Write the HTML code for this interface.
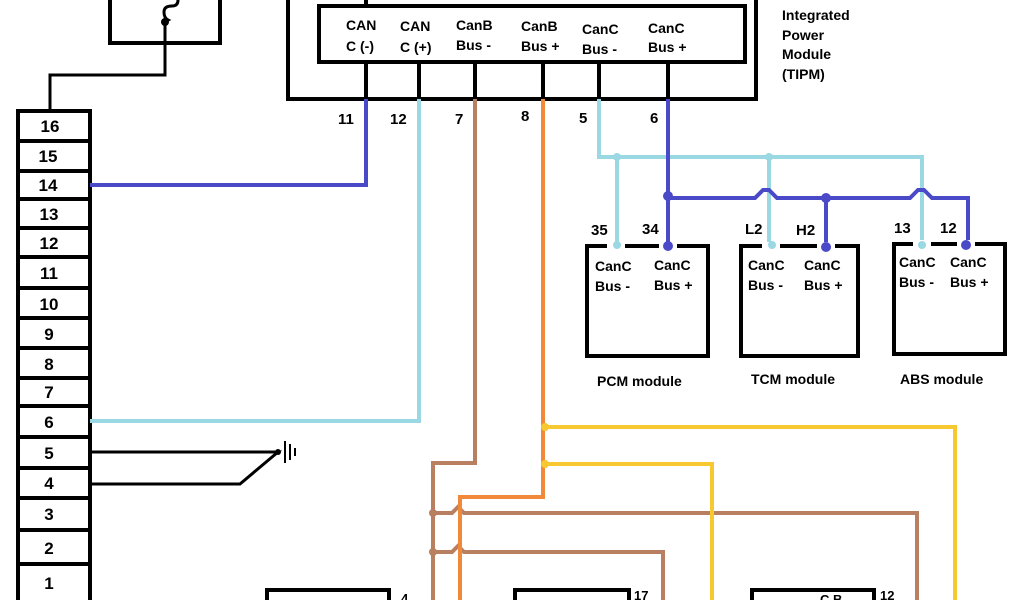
<!DOCTYPE html>
<html><head><meta charset="utf-8"><style>
html,body{margin:0;padding:0;background:#fff;}
svg{display:block;font-family:"Liberation Sans",Arial,sans-serif;font-weight:bold;}
</style></head><body>
<svg width="1024" height="600" viewBox="0 0 1024 600" xmlns="http://www.w3.org/2000/svg">
<rect width="1024" height="600" fill="#fff"/>
<g fill="none" stroke="#000" stroke-width="4">
 <path d="M110 -5 V43 H220 V-5"/>
 <path d="M165 22 V75 H50 V110" stroke-width="3"/>
 <path d="M178 0 q0 6 -6 6 q-8 0 -8 6 q0 6 4 8 q-4 2 -3 4" stroke-width="3"/>
 <rect x="18" y="111" width="72" height="495"/>
</g>
<circle cx="165" cy="22" r="4" fill="#000"/>
<g stroke="#000" stroke-width="4">
 <line x1="18" y1="141" x2="90" y2="141"/><line x1="18" y1="171" x2="90" y2="171"/>
 <line x1="18" y1="199" x2="90" y2="199"/><line x1="18" y1="228" x2="90" y2="228"/>
 <line x1="18" y1="257" x2="90" y2="257"/><line x1="18" y1="288" x2="90" y2="288"/>
 <line x1="18" y1="318" x2="90" y2="318"/><line x1="18" y1="348" x2="90" y2="348"/>
 <line x1="18" y1="378" x2="90" y2="378"/><line x1="18" y1="406" x2="90" y2="406"/>
 <line x1="18" y1="437" x2="90" y2="437"/><line x1="18" y1="468" x2="90" y2="468"/>
 <line x1="18" y1="498" x2="90" y2="498"/><line x1="18" y1="530" x2="90" y2="530"/>
 <line x1="18" y1="564" x2="90" y2="564"/>
</g>
<g font-size="17" text-anchor="middle">
 <text x="50" y="132">16</text><text x="48" y="162">15</text><text x="48" y="191">14</text>
 <text x="49" y="220">13</text><text x="49" y="249">12</text><text x="49" y="279">11</text>
 <text x="49" y="310">10</text><text x="49" y="340">9</text><text x="49" y="370">8</text>
 <text x="49" y="398">7</text><text x="49" y="428">6</text><text x="49" y="459">5</text>
 <text x="49" y="489">4</text><text x="49" y="520">3</text><text x="49" y="554">2</text>
 <text x="49" y="589">1</text>
</g>
<g fill="none" stroke="#000" stroke-width="4">
 <path d="M288 -5 V99 H756 V-5"/>
 <rect x="319" y="6" width="426" height="56"/>
 <line x1="366" y1="-5" x2="366" y2="6"/>
 <line x1="366" y1="62" x2="366" y2="99"/><line x1="419" y1="62" x2="419" y2="99"/>
 <line x1="475" y1="62" x2="475" y2="99"/><line x1="543" y1="62" x2="543" y2="99"/>
 <line x1="599" y1="62" x2="599" y2="99"/><line x1="668" y1="62" x2="668" y2="99"/>
</g>
<g font-size="14">
 <text x="346" y="30">CAN</text><text x="346" y="51">C (-)</text>
 <text x="400" y="31">CAN</text><text x="400" y="52">C (+)</text>
 <text x="456" y="30">CanB</text><text x="456" y="50">Bus -</text>
 <text x="521" y="31">CanB</text><text x="521" y="51">Bus +</text>
 <text x="582" y="34">CanC</text><text x="582" y="54">Bus -</text>
 <text x="648" y="33">CanC</text><text x="648" y="52">Bus +</text>
 <text x="782" y="20">Integrated</text><text x="782" y="40">Power</text>
 <text x="782" y="59">Module</text><text x="782" y="79">(TIPM)</text>
</g>
<g font-size="15">
 <text x="338" y="124">11</text><text x="390" y="124">12</text><text x="455" y="124">7</text>
 <text x="521" y="121">8</text><text x="579" y="123">5</text><text x="650" y="123">6</text>
</g>
<g fill="none" stroke-width="4">
 <path d="M366 99 V185 H90" stroke="#4a4ac8"/>
 <path d="M419 99 V421 H90" stroke="#9ad8e4"/>
 <path d="M599 99 V157 H922 V245" stroke="#9ad8e4"/>
 <path d="M617 157 V245 M769 157 V245" stroke="#9ad8e4"/>
 <path d="M668 99 V245" stroke="#4a4ac8"/>
 <path d="M668 198 H755 l8 -8 h6 l8 8 H910 l8 -8 h6 l8 8 H968 V245 M826 198 V245" stroke="#4a4ac8"/>
 <path d="M475 99 V463 H433 V600" stroke="#b88060"/>
 <path d="M433 513 H452 l6 -6 l6 6 H917 V600" stroke="#b88060"/>
 <path d="M433 552 H452 l6 -6 l6 6 H663 V600" stroke="#b88060"/>
 <path d="M543 99 V497 H460 V600" stroke="#f08a3a"/>
 <path d="M548 427 H955 V600" stroke="#f8c830"/>
 <path d="M548 464 H712 V600" stroke="#f8c830"/>
 <path d="M90 452 H278 L240 484 H90" stroke="#000" stroke-width="3"/>
</g>
<g fill="#000"><circle cx="278" cy="452" r="3"/></g>
<g stroke="#000" stroke-width="2"><line x1="285" y1="441" x2="285" y2="463"/><line x1="290" y1="444" x2="290" y2="460"/><line x1="295" y1="448" x2="295" y2="456"/></g>
<g fill="#9ad8e4"><circle cx="617" cy="157" r="4"/><circle cx="769" cy="157" r="4"/></g>
<g fill="#4a4ac8"><circle cx="668" cy="196" r="5"/><circle cx="826" cy="198" r="5"/></g>
<g fill="#b88060"><circle cx="433" cy="513" r="4"/><circle cx="433" cy="552" r="4"/></g>
<g fill="#f8c830"><circle cx="545" cy="427" r="4"/><circle cx="545" cy="464" r="4"/></g>
<g fill="none" stroke="#000" stroke-width="4">
 <rect x="587" y="246" width="121" height="110"/>
 <rect x="741" y="246" width="117" height="110"/>
 <rect x="894" y="244" width="111" height="110"/>
 <path d="M267 600 V590 H389 V600"/>
 <path d="M515 600 V590 H629 V600"/>
 <path d="M752 600 V590 H874 V600"/>
</g>
<g fill="#fff"><rect x="607" y="242" width="18" height="7"/><rect x="659" y="242" width="18" height="7"/>
<rect x="762" y="242" width="18" height="7"/><rect x="817" y="242" width="18" height="7"/>
<rect x="913" y="240" width="18" height="7"/><rect x="957" y="240" width="18" height="7"/></g>
<g fill="#9ad8e4"><circle cx="617" cy="245" r="4"/><circle cx="772" cy="245" r="4"/><circle cx="922" cy="245" r="4"/></g>
<g fill="#4a4ac8"><circle cx="668" cy="246" r="5"/><circle cx="826" cy="247" r="5"/><circle cx="966" cy="245" r="5"/></g>
<g font-size="14">
 <text x="595" y="271">CanC</text><text x="595" y="291">Bus -</text>
 <text x="654" y="270">CanC</text><text x="654" y="290">Bus +</text>
 <text x="748" y="270">CanC</text><text x="748" y="290">Bus -</text>
 <text x="804" y="270">CanC</text><text x="804" y="290">Bus +</text>
 <text x="899" y="267">CanC</text><text x="899" y="287">Bus -</text>
 <text x="950" y="267">CanC</text><text x="950" y="287">Bus +</text>
 <text x="597" y="386">PCM module</text><text x="751" y="384">TCM module</text><text x="900" y="384">ABS module</text>
</g>
<g font-size="15">
 <text x="591" y="235">35</text><text x="642" y="234">34</text>
 <text x="745" y="234">L2</text><text x="796" y="235">H2</text>
 <text x="894" y="233">13</text><text x="940" y="233">12</text>
</g>
<g font-size="13"><text x="401" y="603">4</text><text x="634" y="600">17</text><text x="880" y="600">12</text>
<text x="820" y="604">C  B</text></g>
</svg>
</body></html>
